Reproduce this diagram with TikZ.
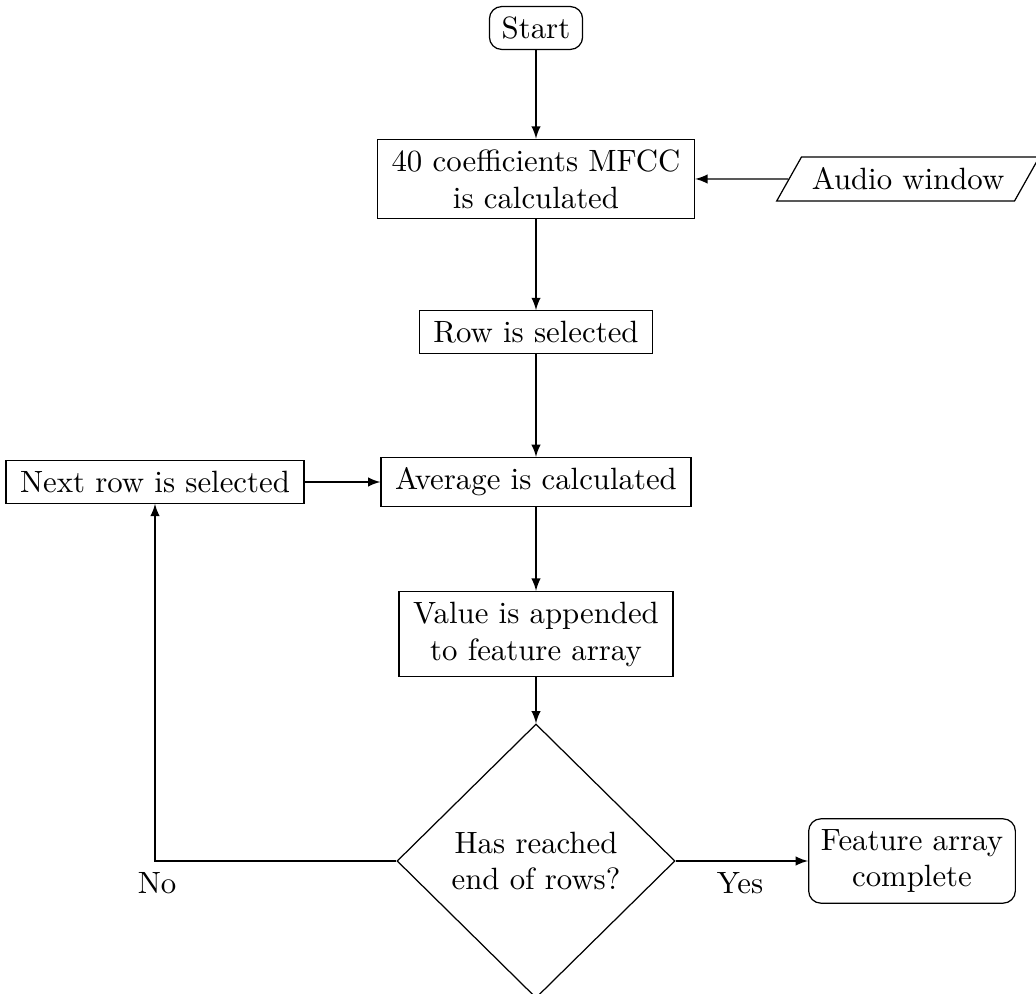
\documentclass[tikz,border=0pt]{standalone}
\usetikzlibrary{shapes.geometric,arrows}
\begin{document}
\begin{tikzpicture}[x=0.3247pt,y=-0.3247pt,
  proc/.style={draw,rectangle,align=center,inner xsep=4.6pt},
  term/.style={draw,rectangle,rounded corners=4pt,align=center,inner xsep=4pt},
  io/.style={draw,trapezium,trapezium left angle=60,trapezium right angle=120,trapezium stretches body,minimum height=44*0.3247pt,align=center},
  decision/.style={draw,diamond,inner sep=0pt,minimum width=278*0.3247pt,minimum height=274*0.3247pt,align=center},
  conn/.style={-latex},
  lbl/.style={inner sep=0pt}]
\useasboundingbox (0,0) rectangle (1036,994);
\node[term] (start) at (536,28) {Start};
\node[proc] (mfcc) at (536,179) {40 coefficients MFCC\\is calculated};
\node[io, minimum width=232*0.3247pt] (audio) at (908,179) {Audio window};
\node[proc] (row) at (536,332) {Row is selected};
\node[proc] (avg) at (536,482) {Average is calculated};
\node[proc] (next) at (155,482) {Next row is selected};
\node[proc] (val) at (536,634) {Value is appended\\to feature array};
\node[decision] (dec) at (536,861) {Has reached\\end of rows?};
\node[term] (feat) at (912,861) {Feature array\\complete};
\node[lbl] (no) at (157,883) {No};
\node[lbl] (yes) at (740,883) {Yes};
\draw[conn] (start) -- (mfcc);
\draw[conn] (audio) -- (mfcc);
\draw[conn] (mfcc) -- (row);
\draw[conn] (row) -- (avg);
\draw[conn] (avg) -- (val);
\draw[conn] (val) -- (dec);
\draw[conn] (dec) -- (feat);
\draw[conn] (next) -- (avg);
\draw[conn] (dec.west) -| (next.south);
\end{tikzpicture}
\end{document}
